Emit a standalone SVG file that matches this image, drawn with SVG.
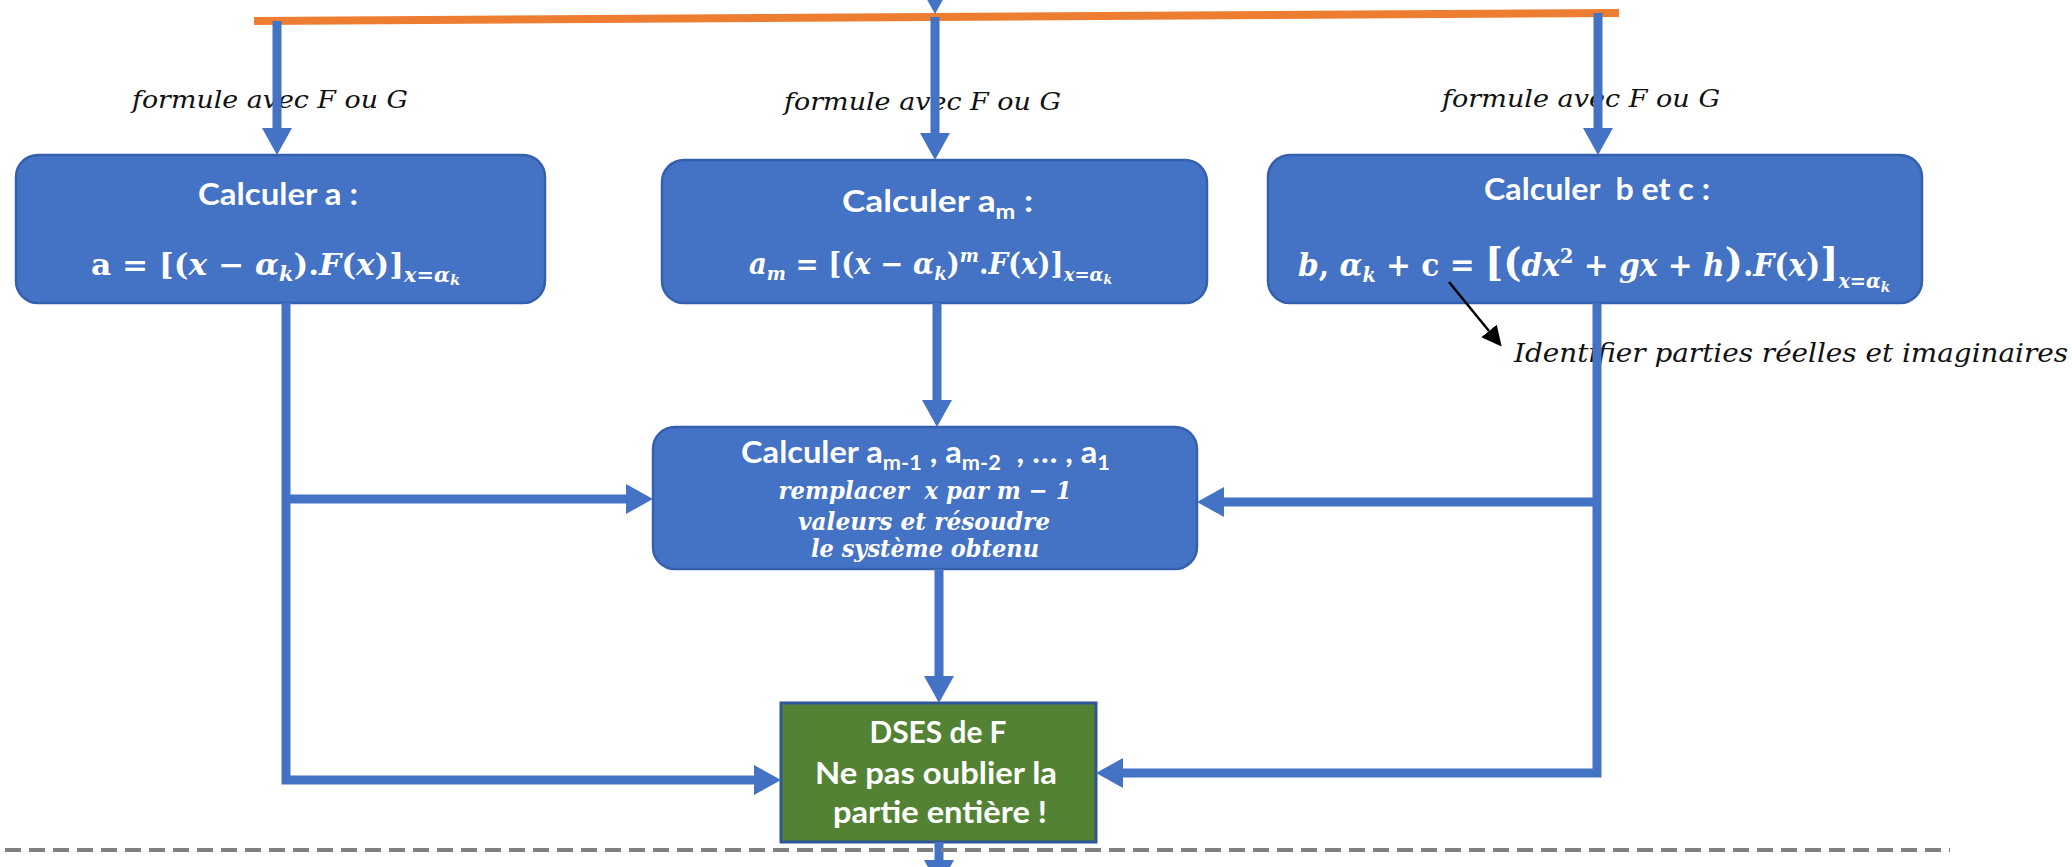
<svg xmlns="http://www.w3.org/2000/svg" width="2072" height="867" viewBox="0 0 2072 867">
<defs>
<style>
.box{fill:#4472C4;stroke:#3560AE;stroke-width:2.5}
.ttl{font-family:Lato,"Liberation Sans",sans-serif;font-weight:700;fill:#fff}
.m{font-family:"DejaVu Serif","Liberation Serif",serif;font-weight:700;fill:#fff}
.it{font-style:italic}
.lbl{font-family:"DejaVu Serif","Liberation Serif",serif;font-style:italic;fill:#111}
.ln{fill:none;stroke:#4472C4;stroke-width:9;stroke-linejoin:miter}
</style>
<marker id="ah" markerUnits="userSpaceOnUse" markerWidth="28" markerHeight="30" refX="0" refY="15" orient="auto"><path d="M0,0 L27,15 L0,30 z" fill="#4472C4"/></marker>
<marker id="bh" markerUnits="userSpaceOnUse" markerWidth="22" markerHeight="20" refX="0" refY="10" orient="auto"><path d="M0,0 L20,10 L0,20 z" fill="#000"/></marker>
</defs>
<rect width="2072" height="867" fill="#fff"/>

<g id="labels">
<text class="lbl" x="132" y="108" font-size="25" textLength="276" lengthAdjust="spacingAndGlyphs">formule avec F ou G</text>
<text class="lbl" x="784" y="110" font-size="25" textLength="277" lengthAdjust="spacingAndGlyphs">formule avec F ou G</text>
<text class="lbl" x="1442" y="107" font-size="25" textLength="278" lengthAdjust="spacingAndGlyphs">formule avec F ou G</text>
<text class="lbl" x="1514" y="362" font-size="26" textLength="554" lengthAdjust="spacingAndGlyphs">Identifier parties réelles et imaginaires</text>
</g>

<g id="nodeA">
<rect class="box" x="16" y="155" width="529" height="148" rx="22"/>
<text class="ttl" x="198" y="205" font-size="30" textLength="160" lengthAdjust="spacingAndGlyphs">Calculer a :</text>
<text class="m" x="91" y="275" font-size="30" textLength="369" lengthAdjust="spacingAndGlyphs">a = [(<tspan class="it">x</tspan> − <tspan class="it">α</tspan><tspan class="it" font-size="20" dy="6">k</tspan><tspan dy="-6">).</tspan><tspan class="it">F</tspan>(<tspan class="it">x</tspan>)]<tspan class="it" font-size="20" dy="7">x=α</tspan><tspan class="it" font-size="14" dy="3">k</tspan></text>
</g>

<g id="nodeB">
<rect class="box" x="662" y="160" width="545" height="143" rx="22"/>
<text class="ttl" x="842" y="212" font-size="30" textLength="191" lengthAdjust="spacingAndGlyphs">Calculer a<tspan font-size="20" dy="7">m</tspan><tspan dy="-7"> :</tspan></text>
<text class="m" x="749" y="274" font-size="29" textLength="363" lengthAdjust="spacingAndGlyphs"><tspan class="it">a</tspan><tspan class="it" font-size="19" dy="6">m</tspan><tspan dy="-6"> = [(</tspan><tspan class="it">x</tspan> − <tspan class="it">α</tspan><tspan class="it" font-size="19" dy="6">k</tspan><tspan dy="-6">)</tspan><tspan class="it" font-size="19" dy="-12">m</tspan><tspan dy="12">.</tspan><tspan class="it">F</tspan>(<tspan class="it">x</tspan>)]<tspan class="it" font-size="19" dy="7">x=α</tspan><tspan class="it" font-size="13" dy="3">k</tspan></text>
</g>

<g id="nodeC">
<rect class="box" x="1268" y="155" width="654" height="148" rx="22"/>
<text class="ttl" x="1484" y="200" font-size="30" textLength="226" lengthAdjust="spacingAndGlyphs" xml:space="preserve">Calculer  b et c :</text>
<text class="m" x="1298" y="276" font-size="31" textLength="592" lengthAdjust="spacingAndGlyphs"><tspan class="it">b</tspan>, <tspan class="it">α</tspan><tspan class="it" font-size="20" dy="6">k</tspan><tspan dy="-6"> + c = </tspan><tspan font-size="40">[(</tspan><tspan class="it">dx</tspan><tspan font-size="20" dy="-13">2</tspan><tspan dy="13"> + </tspan><tspan class="it">gx</tspan> + <tspan class="it">h</tspan><tspan font-size="40">)</tspan>.<tspan class="it">F</tspan>(<tspan class="it">x</tspan>)<tspan font-size="40">]</tspan><tspan class="it" font-size="20" dy="12">x=α</tspan><tspan class="it" font-size="14" dy="4">k</tspan></text>
</g>

<g id="nodeD">
<rect class="box" x="653" y="427" width="544" height="142" rx="22"/>
<text class="ttl" x="741" y="463" font-size="30" textLength="369" lengthAdjust="spacingAndGlyphs" xml:space="preserve">Calculer a<tspan font-size="20" dy="7">m-1</tspan><tspan dy="-7"> , a</tspan><tspan font-size="20" dy="7">m-2</tspan><tspan dy="-7">  , … , a</tspan><tspan font-size="20" dy="7">1</tspan></text>
<text class="m it" x="925" y="499" font-size="25" text-anchor="middle" textLength="293" lengthAdjust="spacingAndGlyphs" xml:space="preserve">remplacer  x par m − 1</text>
<text class="m it" x="924" y="530" font-size="25" text-anchor="middle" textLength="252" lengthAdjust="spacingAndGlyphs">valeurs et résoudre</text>
<text class="m it" x="925" y="557" font-size="25" text-anchor="middle" textLength="228" lengthAdjust="spacingAndGlyphs">le système obtenu</text>
</g>

<g id="nodeE">
<rect x="781" y="703" width="315" height="139" fill="#548235" stroke="#2F5597" stroke-width="3"/>
<text class="ttl" x="938" y="743" font-size="31" text-anchor="middle" textLength="137" lengthAdjust="spacingAndGlyphs">DSES de F</text>
<text class="ttl" x="936" y="784" font-size="31" text-anchor="middle" textLength="242" lengthAdjust="spacingAndGlyphs">Ne pas oublier la</text>
<text class="ttl" x="940" y="823" font-size="31" text-anchor="middle" textLength="214" lengthAdjust="spacingAndGlyphs">partie entière !</text>
</g>

<g id="connectors">
<line x1="254" y1="21" x2="1619" y2="13" stroke="#ED7D31" stroke-width="8"/>
<line class="ln" x1="935" y1="-20" x2="935" y2="-13"/>
<polygon points="920,-13 950,-13 935,14" fill="#4472C4"/>
<line class="ln" x1="277" y1="21" x2="277" y2="128" marker-end="url(#ah)"/>
<line class="ln" x1="935" y1="17" x2="935" y2="133" marker-end="url(#ah)"/>
<line class="ln" x1="1598" y1="13" x2="1598" y2="128" marker-end="url(#ah)"/>
<line class="ln" x1="937" y1="303" x2="937" y2="400" marker-end="url(#ah)"/>
<line class="ln" x1="939" y1="569" x2="939" y2="676" marker-end="url(#ah)"/>
<line class="ln" x1="939" y1="842" x2="939" y2="860" marker-end="url(#ah)"/>
<path class="ln" d="M286,303 V780 H754" marker-end="url(#ah)"/>
<path class="ln" d="M286,499 H626" marker-end="url(#ah)"/>
<path class="ln" d="M1597,303 V773 H1123" marker-end="url(#ah)"/>
<path class="ln" d="M1597,502 H1224" marker-end="url(#ah)"/>
<line x1="5" y1="850" x2="1950" y2="850" stroke="#7F7F7F" stroke-width="4" stroke-dasharray="16 8"/>
<line x1="1449" y1="282" x2="1489" y2="331" stroke="#000" stroke-width="2.5" marker-end="url(#bh)"/>
</g>
</svg>
